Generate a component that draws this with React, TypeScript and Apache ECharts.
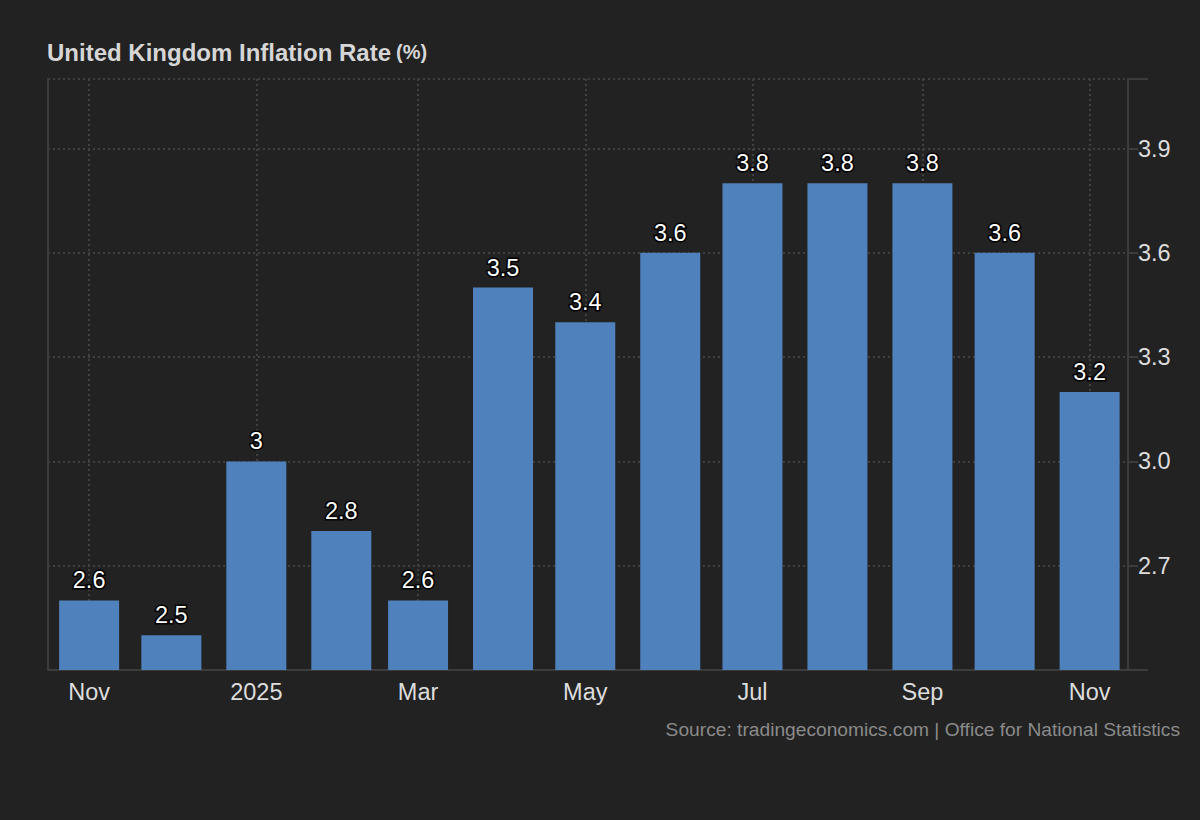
import React, { useEffect, useRef } from "react";
import * as echarts from "echarts";

// Monthly UK CPI inflation, Nov 2024 – Nov 2025 (first day of each month)
const months: string[] = [
  "2024-11-01", "2024-12-01", "2025-01-01", "2025-02-01", "2025-03-01",
  "2025-04-01", "2025-05-01", "2025-06-01", "2025-07-01", "2025-08-01",
  "2025-09-01", "2025-10-01", "2025-11-01",
];
const inflation: number[] = [2.6, 2.5, 3.0, 2.8, 2.6, 3.5, 3.4, 3.6, 3.8, 3.8, 3.8, 3.6, 3.2];

// Bottom axis labels, every second month
const tickDates: string[] = ["2024-11-01", "2025-01-01", "2025-03-01", "2025-05-01", "2025-07-01", "2025-09-01", "2025-11-01"];
const tickLabels: string[] = ["Nov", "2025", "Mar", "May", "Jul", "Sep", "Nov"];

// Visible time window
const rangeStart = "2024-10-17";
const rangeEnd = "2025-11-15";

// Dates are placed on a linear axis measured in days
const DAY = 86400000;
const dayNum = (d: string) => Math.round(Date.parse(d + "T00:00:00Z") / DAY);

const FONT = "Arial, 'Liberation Sans', sans-serif";
const BG = "#222222";
const AXIS = "#3c3c3c";
const GRID = "#404040";
const LABEL = "#dddddd";

export default function App() {
  const ref = useRef<HTMLDivElement>(null);

  useEffect(() => {
    if (!ref.current) return;
    const chart = echarts.init(ref.current, undefined, { renderer: "svg" });

    const tickDays = tickDates.map(dayNum);
    const labelFor = new Map<number, string>();
    tickDays.forEach((t, i) => labelFor.set(t, tickLabels[i]));

    chart.setOption({
      animation: false,
      backgroundColor: BG,
      textStyle: { fontFamily: FONT },
      title: {
        left: 42,
        top: 35,
        text: "{a|United Kingdom Inflation Rate} {b|(%)}",
        textStyle: {
          rich: {
            a: { fontSize: 24, fontWeight: "bold", color: "#d6d6d6", fontFamily: FONT },
            b: { fontSize: 20, fontWeight: "bold", color: "#d6d6d6", fontFamily: FONT },
          },
        },
      },
      grid: { left: 48, right: 72, top: 79, bottom: 150, containLabel: false },
      xAxis: {
        type: "value",
        min: dayNum(rangeStart),
        max: dayNum(rangeEnd),
        axisLine: { show: true, lineStyle: { color: AXIS, width: 2 } },
        axisTick: { show: false, customValues: tickDays },
        axisLabel: {
          customValues: tickDays,
          color: LABEL,
          fontSize: 23.5,
          margin: 10,
          fontFamily: FONT,
          formatter: (v: number) => labelFor.get(Math.round(v)) ?? "",
        },
        splitLine: { show: true, lineStyle: { color: GRID, type: [2, 3], width: 2 } },
      },
      yAxis: [
        {
          type: "value",
          position: "right",
          min: 2.4,
          max: 4.1,
          interval: 0.3,
          axisLine: { show: true, lineStyle: { color: AXIS, width: 2 } },
          axisTick: { show: true, length: 10, lineStyle: { color: AXIS, width: 2 } },
          axisLabel: {
            color: LABEL,
            fontSize: 23.5,
            margin: 10,
            fontFamily: FONT,
            showMinLabel: false,
            showMaxLabel: false,
            formatter: (v: number) => v.toFixed(1),
          },
          splitLine: { show: true, lineStyle: { color: GRID, type: [2, 3], width: 2 } },
        },
        {
          type: "value",
          position: "left",
          min: 2.4,
          max: 4.1,
          axisLine: { show: true, lineStyle: { color: AXIS, width: 2 } },
          axisTick: { show: false },
          axisLabel: { show: false },
          splitLine: { show: false },
        },
      ],
      series: [
        {
          type: "bar",
          yAxisIndex: 0,
          barWidth: 60,
          data: months.map((m, i) => [dayNum(m), inflation[i]]),
          itemStyle: { color: "#4f81bd" },
          label: {
            show: true,
            position: "top",
            distance: 8,
            color: "#ffffff",
            fontSize: 23.5,
            fontFamily: FONT,
            textBorderColor: "#000000",
            textBorderWidth: 3,
            formatter: (p: any) => String(p.value[1]),
          },
        },
      ],
      graphic: [
        {
          type: "line",
          shape: { x1: 1128, y1: 79, x2: 1148, y2: 79 },
          style: { stroke: AXIS, lineWidth: 2 },
        },
        {
          type: "line",
          shape: { x1: 1128, y1: 670, x2: 1148, y2: 670 },
          style: { stroke: AXIS, lineWidth: 2 },
        },
        {
          type: "text",
          right: 20,
          top: 720,
          style: {
            text: "Source: tradingeconomics.com | Office for National Statistics",
            fill: "#8a8a8a",
            fontSize: 19.2,
            fontFamily: FONT,
          },
        },
      ],
    });

    return () => chart.dispose();
  }, []);

  return (
    <div
      ref={ref}
      style={{ position: "absolute", left: 0, top: 0, width: 1200, height: 820 }}
    />
  );
}
